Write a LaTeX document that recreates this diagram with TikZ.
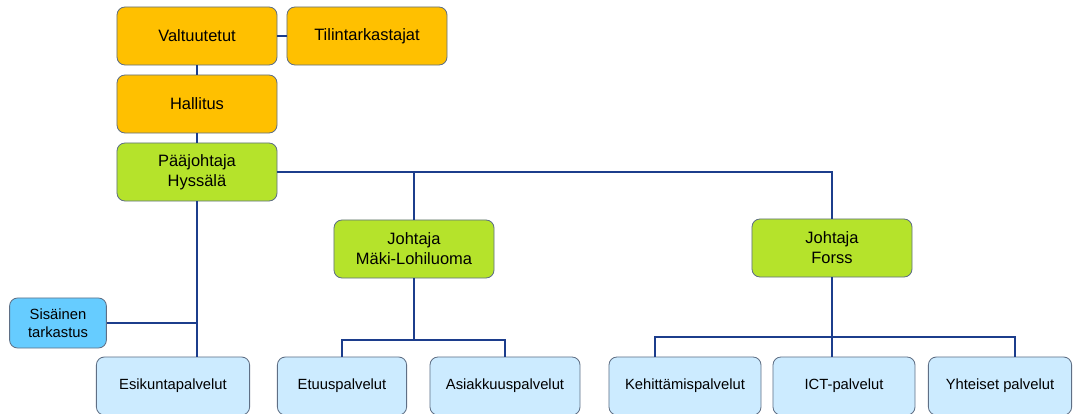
\documentclass[tikz,border=0pt]{standalone}
\usepackage{fontspec}
\setmainfont{Liberation Sans}
\usetikzlibrary{positioning}
\definecolor{boardorange}{HTML}{FFC000}
\definecolor{headgreen}{HTML}{B5E32B}
\definecolor{auditblue}{HTML}{66CCFF}
\definecolor{servicepale}{HTML}{CCEBFF}
\definecolor{linkblue}{HTML}{1C3D8C}
\definecolor{boxedge}{HTML}{5F6F85}

\begin{document}
\begin{tikzpicture}[x=0.025cm, y=-0.025cm,
    unit/.style={draw=boxedge, line width=0.6pt, rounded corners=0.2cm, align=center,
      inner sep=0pt, minimum width=4cm, minimum height=1.45cm,
      font=\fontsize{11.7}{14.2}\selectfont},
    board/.style={unit, fill=boardorange},
    head/.style={unit, fill=headgreen},
    audit/.style={unit, fill=auditblue, minimum width=2.42cm, minimum height=1.25cm,
      font=\fontsize{10.5}{13}\selectfont},
    service/.style={unit, fill=servicepale, font=\fontsize{10.5}{13}\selectfont},
    link/.style={draw=linkblue, line width=2pt}]
      \useasboundingbox (0,0) rectangle (1074,414);

      % junctions of the lower bars
      \coordinate(mbus) at (414,340);
      \coordinate(fbus) at (834,337);
      \coordinate(kehitop) at (655,357);
      \coordinate(yhtetop) at (1015,357);

      \node(valt) [board] at (197,36) {Valtuutetut};
      \node(tilin) [board] at (367,36) {Tilintarkastajat};
      \node(hall) [board] at (197,104) {Hallitus};
      \node(paa) [head] at (197,172) {Pääjohtaja\\Hyssälä};
      \node(maki) [head] at (414,249) {Johtaja\\Mäki-Lohiluoma};
      \node(forss) [head] at (832,248) {Johtaja\\Forss};
      \node(sisa) [audit] at (58,323) {Sisäinen\\tarkastus};
      \node(esik) [service, minimum width=3.83cm] at (173,386) {Esikuntapalvelut};
      \node(etuus) [service, minimum width=3.23cm] at (342,386) {Etuuspalvelut};
      \node(asiak) [service, minimum width=3.75cm] at (505,386) {Asiakkuuspalvelut};
      \node(kehi) [service, minimum width=3.8cm] at (685,386) {Kehittämispalvelut};
      \node(ict) [service, minimum width=3.55cm] at (844,386) {ICT-palvelut};
      \node(yhte) [service, minimum width=3.58cm] at (1000,386) {Yhteiset palvelut};

      \draw[link](valt) -- (tilin);
      \draw[link](valt) -- (hall);
      \draw[link](hall) -- (paa);
      \draw[link](paa.east) -| (forss.north);
      \draw[link](maki.north) -- (maki.north |- paa.east);
      \draw[link](paa) -- (esik.north -| paa.south);
      \draw[link](sisa.east) -- (sisa.east -| paa.south);
      \draw[link](maki) -- (mbus);
      \draw[link](etuus.north) |- (mbus) -| (asiak.north);
      \draw[link](forss) -- (forss |- ict.north);
      \draw[link](kehitop) |- (fbus) -| (yhtetop);
    \end{tikzpicture}
\end{document}
